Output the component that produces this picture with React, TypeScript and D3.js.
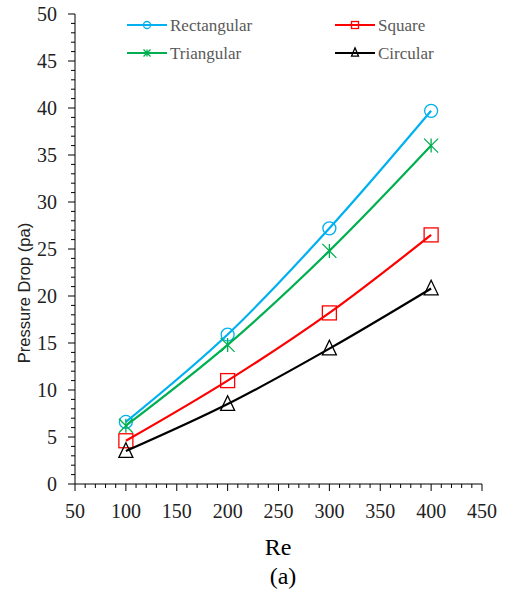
import React from "react";
import * as d3 from "d3";

const reValues = [100, 200, 300, 400];
const rectangular = [6.6, 15.9, 27.2, 39.7];
const triangular = [6.2, 14.8, 24.8, 36.0];
const square = [4.6, 11.0, 18.2, 26.5];
const circular = [3.5, 8.5, 14.4, 20.8];
const xTicks = [50, 100, 150, 200, 250, 300, 350, 400, 450];
const yTicks = [0, 5, 10, 15, 20, 25, 30, 35, 40, 45, 50];

const seriesNames = ["Rectangular", "Square", "Triangular", "Circular"];

const SERIF = "'Liberation Serif', 'Times New Roman', 'DejaVu Serif', serif";

export default function App() {
  const W = 506, H = 592;
  const left = 75, right = 482, top = 14, bottom = 484;
  const x = d3.scaleLinear().domain([50, 450]).range([left, right]);
  const y = d3.scaleLinear().domain([0, 50]).range([bottom, top]);

  const series = [
    { name: "Rectangular", values: rectangular, color: "#00B0F0", marker: "circle" },
    { name: "Triangular", values: triangular, color: "#00B050", marker: "star" },
    { name: "Square", values: square, color: "#FF0000", marker: "square" },
    { name: "Circular", values: circular, color: "#000000", marker: "triangle" },
  ];

  const line = d3
    .line<number>()
    .x((_, i) => x(reValues[i]))
    .y((d) => y(d))
    .curve(d3.curveCatmullRom.alpha(0.5));

  const marker = (type: string, cx: number, cy: number, color: string, s: number, key: string) => {
    const sw = 1.3;
    if (type === "circle")
      return <circle key={key} cx={cx} cy={cy} r={s / 2} fill="none" stroke={color} strokeWidth={sw} />;
    if (type === "square")
      return <rect key={key} x={cx - s / 2} y={cy - s / 2} width={s} height={s} fill="none" stroke={color} strokeWidth={sw} />;
    if (type === "triangle") {
      const h = s * 0.9;
      return (
        <path key={key} d={`M${cx},${cy - h / 2 - 2}L${cx + s / 2},${cy + h / 2}L${cx - s / 2},${cy + h / 2}Z`} fill="none" stroke={color} strokeWidth={sw} />
      );
    }
    const r = s / 2;
    return (
      <path key={key} d={`M${cx - r},${cy - r}L${cx + r},${cy + r}M${cx - r},${cy + r}L${cx + r},${cy - r}M${cx},${cy - r}L${cx},${cy + r}`} fill="none" stroke={color} strokeWidth={sw} />
    );
  };

  const xMinor = d3.range(50, 451, 10);
  const yMinor = d3.range(0, 51, 1);

  const legendPos: Record<string, [number, number]> = {
    Rectangular: [127, 25],
    Square: [335, 25],
    Triangular: [127, 53],
    Circular: [335, 53],
  };

  return (
    <svg width={W} height={H} style={{ display: "block", position: "absolute", left: 0, top: 0 }}>
      <rect width={W} height={H} fill="#fff" />
      <line x1={left} x2={left} y1={top} y2={bottom} stroke="#000" strokeWidth={1} />
      <line x1={left} x2={right} y1={bottom} y2={bottom} stroke="#000" strokeWidth={1} />
      {yMinor.map((v) => (
        <line key={"ym" + v} x1={left - (v % 5 === 0 ? 7 : 4)} x2={left} y1={y(v)} y2={y(v)} stroke="#000" strokeWidth={1} />
      ))}
      {xMinor.map((v) => (
        <line key={"xm" + v} x1={x(v)} x2={x(v)} y1={bottom} y2={bottom + (v % 50 === 0 ? 7 : 4)} stroke="#000" strokeWidth={1} />
      ))}
      {yTicks.map((v) => (
        <text key={"yt" + v} x={57} y={y(v) + 7} textAnchor="end" style={{ fontFamily: SERIF }} fontSize={20} fill="#222">
          {v}
        </text>
      ))}
      {xTicks.map((v) => (
        <text key={"xt" + v} x={x(v)} y={518} textAnchor="middle" style={{ fontFamily: SERIF }} fontSize={20} fill="#222">
          {v}
        </text>
      ))}
      <text transform={`translate(30,${293}) rotate(-90)`} textAnchor="middle" style={{ fontFamily: "'Liberation Sans', Arial, sans-serif" }} fontSize={16.5} fill="#222">
        Pressure Drop (pa)
      </text>
      <text x={278} y={555} textAnchor="middle" style={{ fontFamily: SERIF }} fontSize={24} fill="#000">
        Re
      </text>
      <text x={283} y={584} textAnchor="middle" style={{ fontFamily: SERIF }} fontSize={24} fill="#000">
        (a)
      </text>
      {series.map((s) => (
        <g key={s.name}>
          <path d={line(s.values) || ""} fill="none" stroke={s.color} strokeWidth={2.2} />
          {s.values.map((v, i) =>
            marker(s.marker, x(reValues[i]), y(v), s.color, s.marker === "circle" ? 13 : 14, s.name + i)
          )}
        </g>
      ))}
      {seriesNames.map((n) => {
        const s = series.find((q) => q.name === n)!;
        const [lx, ly] = legendPos[n];
        return (
          <g key={"lg" + n}>
            <line x1={lx} x2={lx + 40} y1={ly} y2={ly} stroke={s.color} strokeWidth={2.2} />
            {marker(s.marker, lx + 20, ly, s.color, 7, "lm" + n)}
            <text x={lx + 43} y={ly + 5.5} style={{ fontFamily: SERIF }} fontSize={17} fill="#595959">
              {n}
            </text>
          </g>
        );
      })}
    </svg>
  );
}
